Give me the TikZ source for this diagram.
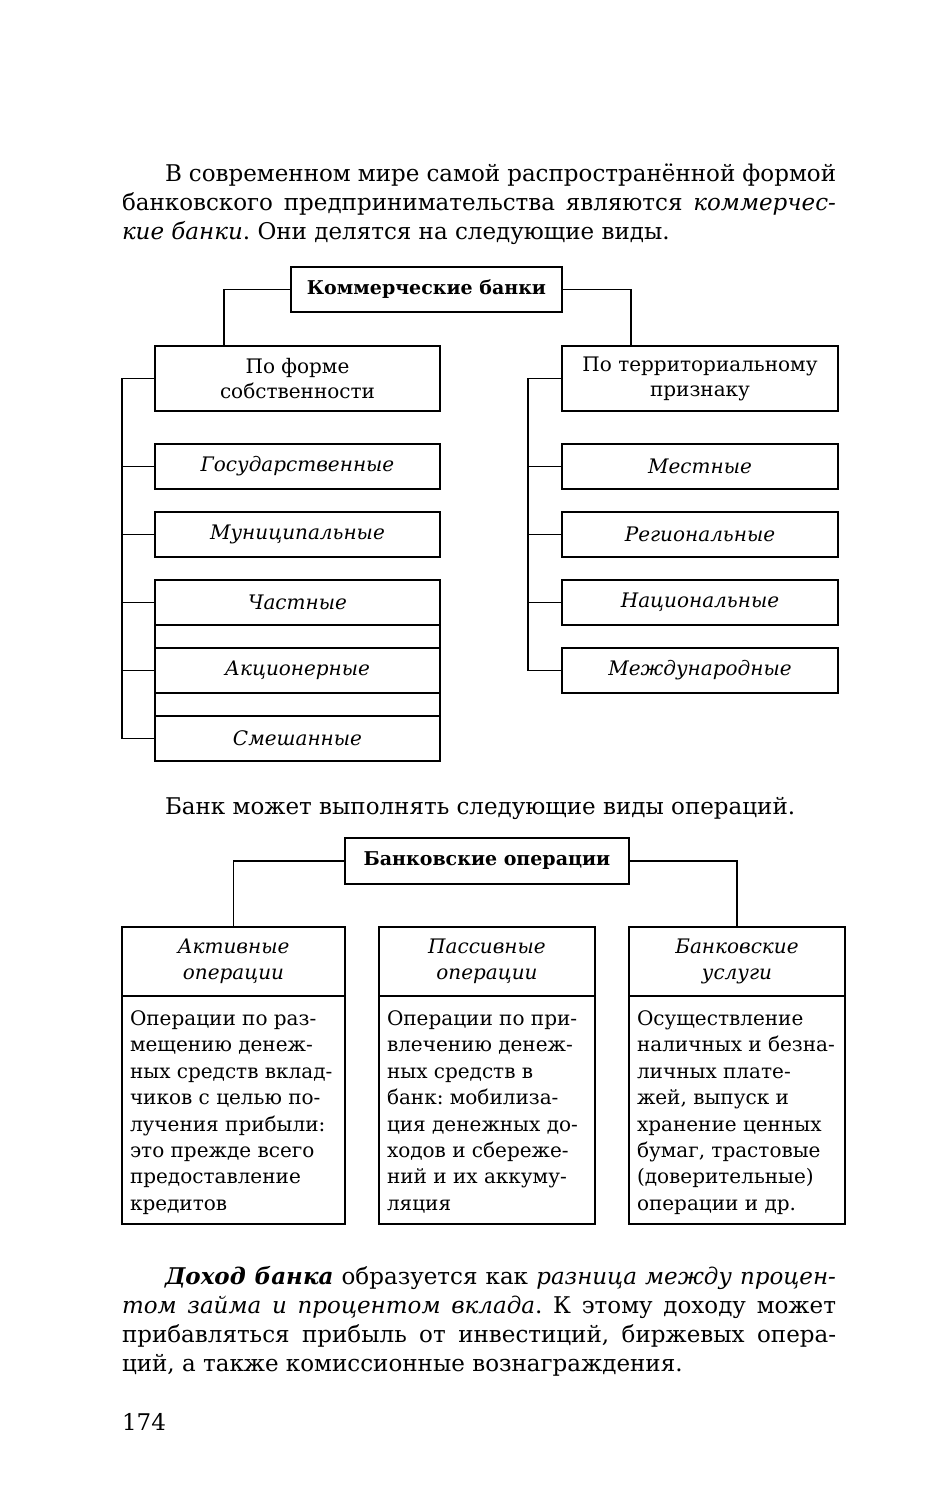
\documentclass[tikz,border=0pt]{standalone}
\usepackage{fontspec}
\setmainfont{DejaVu Serif}
\usetikzlibrary{positioning}
\frenchspacing
\begin{document}
\begin{tikzpicture}[x=1pt, y=-1pt, line width=1.1pt, node distance=23pt, outer sep=0pt,
  txt/.style={anchor=base west, inner sep=0, text width=714pt, align=justify, font=\fontsize{23}{29}\selectfont},
  head/.style={draw, inner sep=0, minimum height=45pt, anchor=north west, font=\fontsize{19}{23}\selectfont\bfseries},
  group/.style={draw, inner sep=0, align=center, minimum height=65pt, anchor=north west, font=\fontsize{20}{25}\selectfont},
  kind/.style={draw, inner sep=0, minimum height=45pt, font=\fontsize{20}{24}\selectfont\itshape},
  op/.style={draw, inner sep=0, align=center, minimum height=69pt, anchor=north west, font=\fontsize{20}{26}\selectfont\itshape},
  desc/.style={draw, inner xsep=8pt, inner ysep=11pt, font=\fontsize{20}{26.4}\selectfont}]
\useasboundingbox[fill=white] (0,0) rectangle (930,1500);

\node[txt] (intro) at (122,181) {\hspace*{43pt}В современном мире самой распространённой формой\linebreak
банковского предпринимательства являются \textit{коммерчес-\linebreak
кие банки}. Они делятся на следующие виды.};

% commercial banks
\node[head, minimum width=271pt] (kb) at (291,267) {Коммерческие банки};
\node[group, minimum width=285pt] (form) at (155,346) {По форме\\собственности};
\node[group, minimum width=276pt] (terr) at (562,346) {По территориальному\\признаку};
\draw (kb.west) -| ([xshift=-73.5pt]form.north);
\draw (kb.east) -| ([xshift=-69pt]terr.north);

\node[kind, minimum width=285pt, below=33pt of form] (gos) {Государственные};
\node[kind, minimum width=285pt, below=of gos] (mun) {Муниципальные};
\node[kind, minimum width=285pt, below=of mun] (chast) {Частные};
\node[kind, minimum width=285pt, below=of chast] (akc) {Акционерные};
\node[kind, minimum width=285pt, below=of akc] (smesh) {Смешанные};
\draw (chast.north west) rectangle (smesh.south east);

\node[kind, minimum width=276pt, below=33pt of terr] (mest) {Местные};
\node[kind, minimum width=276pt, below=of mest] (reg) {Региональные};
\node[kind, minimum width=276pt, below=of reg] (nac) {Национальные};
\node[kind, minimum width=276pt, below=of nac] (mezh) {Международные};

\coordinate (lbus) at ([xshift=-33pt]form.west);
\draw (form.west) -- (lbus) |- (smesh.west);
\foreach \k in {gos,mun,chast,akc}
  \draw (lbus |- \k.west) -- (\k.west);

\coordinate (rbus) at ([xshift=-34pt]terr.west);
\draw (terr.west) -- (rbus) |- (mezh.west);
\foreach \k in {mest,reg,nac}
  \draw (rbus |- \k.west) -- (\k.west);

\node[txt] (bank) at (122,814) {\hspace*{43pt}Банк может выполнять следующие виды операций.};

% bank operations
\node[head, minimum width=284pt, minimum height=46pt] (bo) at (345,838) {Банковские операции};
\node[op, minimum width=223pt] (akt) at (122,927) {Активные\\операции};
\node[op, minimum width=216pt] (pas) at (379,927) {Пассивные\\операции};
\node[op, minimum width=216pt] (usl) at (629,927) {Банковские\\услуги};
\draw (bo.west) -| (akt.north);
\draw (bo.east) -| (usl.north);

\node[desc, below=0pt of akt] (akttxt) {\begin{minipage}[t][206pt][t]{207pt}\raggedright
\strut Операции по раз-\\мещению денеж-\\ных средств вклад-\\чиков с целью по-\\лучения прибыли:\\это прежде всего\\предоставление\\кредитов\end{minipage}};
\node[desc, below=0pt of pas] (pastxt) {\begin{minipage}[t][206pt][t]{200pt}\raggedright
\strut Операции по при-\\влечению денеж-\\ных средств в\\банк: мобилиза-\\ция денежных до-\\ходов и сбереже-\\ний и их аккуму-\\ляция\end{minipage}};
\node[desc, below=0pt of usl] (usltxt) {\begin{minipage}[t][206pt][t]{200pt}\raggedright
\strut Осуществление\\наличных и безна-\\личных плате-\\жей, выпуск и\\хранение ценных\\бумаг, трастовые\\(доверительные)\\операции и др.\end{minipage}};

\node[txt] (income) at (122,1284) {\hspace*{43pt}\textbf{\textit{Доход банка}} образуется как \textit{разница между процен-\linebreak
том займа и процентом вклада}. К этому доходу может\linebreak
прибавляться прибыль от инвестиций, биржевых опера-\linebreak
ций, а также комиссионные вознаграждения.};

\node[anchor=base west, inner sep=0, font=\fontsize{23}{29}\selectfont] (page) at (122,1430) {174};
\end{tikzpicture}
\end{document}
